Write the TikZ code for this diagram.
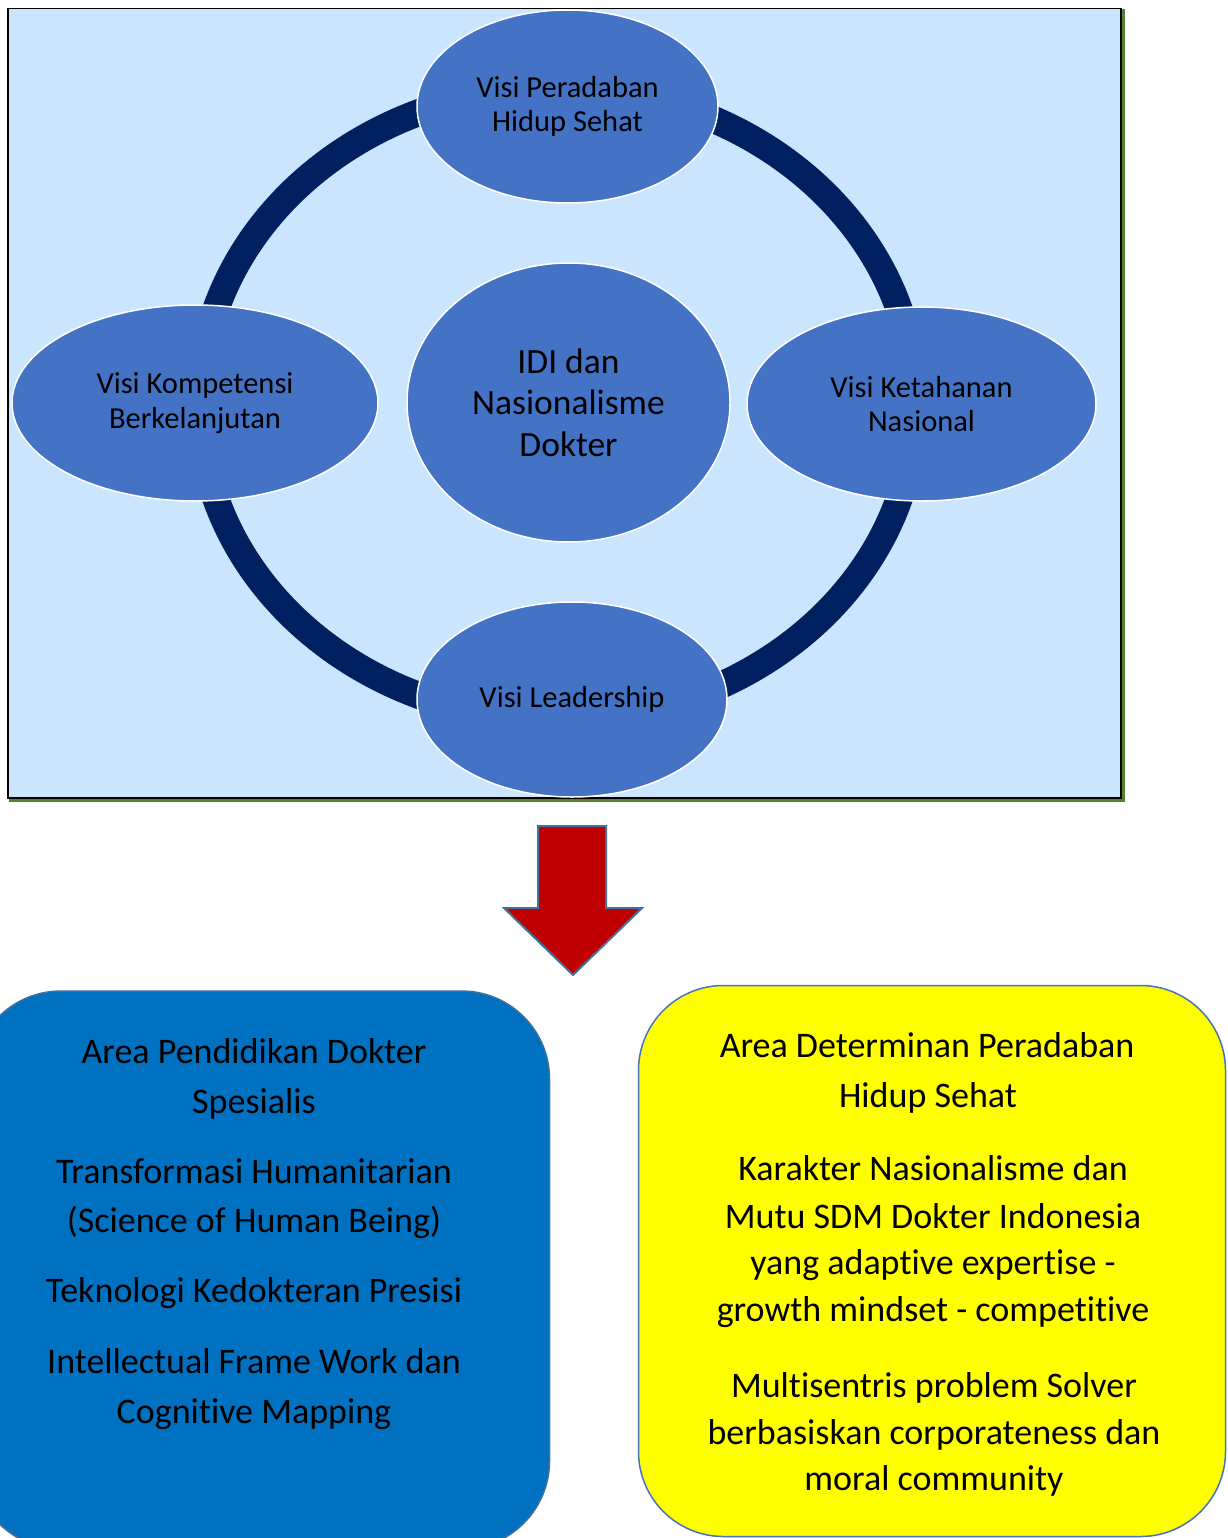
\documentclass[tikz,border=0pt]{standalone}
\usepackage{fontspec}
\setmainfont{Carlito}[Ligatures=NoCommon]
\usetikzlibrary{shapes.geometric}
\definecolor{bgblue}{RGB}{204,229,255}
\definecolor{ringc}{HTML}{002060}
\definecolor{ellc}{HTML}{4472C4}
\definecolor{shadowg}{HTML}{548235}
\definecolor{arrowred}{HTML}{C00000}
\definecolor{arrowedge}{HTML}{41719C}
\definecolor{boxblue}{HTML}{0070C0}
\definecolor{boxyellow}{HTML}{FFFF00}
\definecolor{boxedge}{HTML}{4472C4}
\begin{document}
\begin{tikzpicture}[x=1pt,y=1pt,
  ell/.style={ellipse, fill=ellc, draw=white, line width=1.5pt, inner sep=0pt, outer sep=0pt, align=center, text=black},
  smalltxt/.style={font=\fontsize{30.5}{34.5}\selectfont},
  bigtxt/.style={font=\fontsize{35.5}{41.5}\selectfont},
  line/.style={anchor=base, inner sep=0pt, outer sep=0pt, font=\fontsize{36}{44}\selectfont, text=black},
  roundbox/.style={rectangle, inner sep=0pt, outer sep=0pt, line width=1.5pt},
]
\useasboundingbox (0,0) rectangle (1227,-1538);
\clip (0,0) rectangle (1227,-1538);
% top panel with green shadow
\draw[shadowg, line width=2.5pt] (9,-800.5) -- (1123.5,-800.5) -- (1123.5,-9);
\node[rectangle, fill=bgblue, draw=black, line width=1.8pt, inner sep=0pt, minimum width=1113pt, minimum height=789.5pt] (panel) at (564.5,-403.25) {};
% ring
\draw[ringc, line width=27pt] (557.5,-404) ellipse [x radius=358, y radius=316];
% ellipses
\node[ell, smalltxt, minimum width=301pt, minimum height=193pt] (peradaban) at (567.5,-106.5) {Visi Peradaban\\Hidup Sehat};
\node[ell, smalltxt, minimum width=366pt, minimum height=196pt] (kompetensi) at (195,-403) {Visi Kompetensi\\Berkelanjutan};
\node[ell, smalltxt, minimum width=349pt, minimum height=194pt] (ketahanan) at (921.5,-404) {Visi Ketahanan\\Nasional};
\node[ell, smalltxt, minimum width=310pt, minimum height=195pt] (leadership) at (572,-699.5) {Visi Leadership};
\node[ell, bigtxt, minimum width=323pt, minimum height=279pt] (idi) at (568.5,-402.5) {IDI dan\\Nasionalisme\\Dokter};
% block arrow
\draw[fill=arrowred, draw=arrowedge, line width=2pt] (538,-826) -- (606,-826) -- (606,-908) -- (642,-908) -- (573,-975) -- (504,-908) -- (538,-908) -- cycle;
% bottom boxes
\node[roundbox, fill=boxblue, draw=arrowedge, rounded corners=88pt, minimum width=576.5pt, minimum height=558pt] (leftbox) at (261.25,-1270) {};
\node[roundbox, fill=boxyellow, draw=boxedge, rounded corners=85pt, minimum width=587pt, minimum height=551pt] (rightbox) at (932,-1261) {};
% left box text
\node[line] (la1) at (254,-1063.6) {Area Pendidikan Dokter};
\node[line] (la2) at (254,-1113.5) {Spesialis};
\node[line] (lb1) at (254,-1183.5) {Transformasi Humanitarian};
\node[line] (lb2) at (254,-1232.7) {(Science of Human Being)};
\node[line] (lc1) at (254,-1302) {Teknologi Kedokteran Presisi};
\node[line] (ld1) at (254,-1373) {Intellectual Frame Work dan};
\node[line] (ld2) at (254,-1423) {Cognitive Mapping};
% right box text
\node[line] (ra1) at (927,-1057) {Area Determinan Peradaban};
\node[line] (ra2) at (928,-1107.7) {Hidup Sehat};
\node[line] (rb1) at (933,-1180) {Karakter Nasionalisme dan};
\node[line] (rb2) at (933,-1228) {Mutu SDM Dokter Indonesia};
\node[line] (rb3) at (933,-1274) {yang adaptive expertise -};
\node[line] (rb4) at (933,-1321.5) {growth mindset - competitive};
\node[line] (rc1) at (934,-1397.5) {Multisentris problem Solver};
\node[line] (rc2) at (934,-1444.6) {berbasiskan corporateness dan};
\node[line] (rc3) at (934,-1490) {moral community};
\end{tikzpicture}
\end{document}
